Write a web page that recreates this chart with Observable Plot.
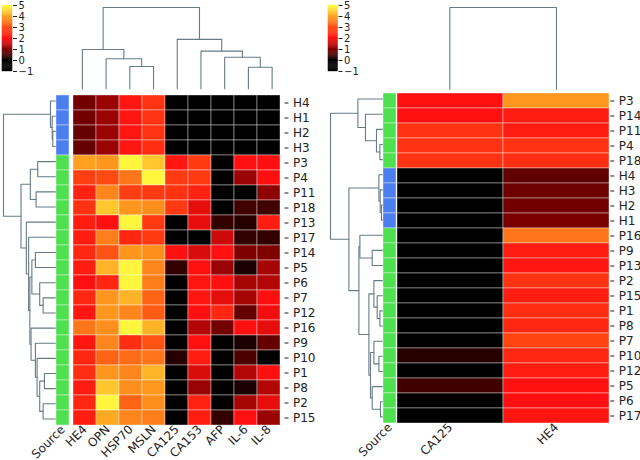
<!DOCTYPE html>
<html><head><meta charset="utf-8">
<script src="https://cdn.jsdelivr.net/npm/d3@7"></script>
<script src="https://cdn.jsdelivr.net/npm/@observablehq/plot@0.6"></script>
<style>
body{margin:0;background:#fff;}
#chart{position:relative;width:640px;height:460px;overflow:hidden;background:#fff;}
#chart > div{position:absolute;}
</style></head><body><div id="chart"></div>
<script>
// ---------- data: left panel ----------
const leftCols = ["HE4","OPN","HSP70","MSLN","CA125","CA153","AFP","IL-6","IL-8"];
const leftRows = ["H4","H1","H2","H3","P3","P4","P11","P18","P13","P17","P14","P5","P6","P7","P12","P16","P9","P10","P1","P8","P2","P15"];
const leftValues = [
  [0.9,1.2,2.1,2.6,-0.5,-0.5,-0.5,-0.5,-0.5],
  [0.9,1.2,2.1,2.6,-0.5,-0.5,-0.5,-0.5,-0.5],
  [0.8,1.2,2.1,2.6,-0.5,-0.5,-0.5,-0.5,-0.5],
  [0.8,1.2,2.1,2.5,-0.5,-0.5,-0.5,-0.5,-0.5],
  [4.0,3.9,4.9,4.4,2.1,2.7,-0.3,2.0,2.0],
  [2.8,3.0,3.5,4.9,2.7,2.7,-0.3,1.2,2.0],
  [2.3,3.7,2.8,2.7,2.6,2.3,-0.3,0.0,1.1],
  [2.6,4.4,3.9,3.8,2.7,1.8,-0.3,0.5,0.5],
  [2.2,2.0,4.9,2.7,-0.3,1.8,0.4,0.3,2.2],
  [2.2,3.6,2.4,2.7,-0.3,-0.1,1.6,0.4,0.4],
  [2.4,3.1,3.9,3.8,2.0,1.7,2.0,1.0,1.0],
  [2.2,4.2,4.9,3.7,0.4,2.0,1.2,0.2,1.3],
  [2.0,2.4,4.9,3.6,-0.3,2.1,2.0,1.3,1.4],
  [2.4,3.9,4.2,3.3,-0.3,2.1,1.8,1.3,2.0],
  [2.1,3.9,3.7,3.2,-0.3,2.0,2.4,0.8,1.9],
  [3.5,3.8,4.9,4.2,-0.3,1.4,0.9,2.0,1.8],
  [2.1,3.7,2.5,3.1,-0.3,2.0,-0.3,0.2,0.8],
  [2.4,3.3,3.4,3.5,0.3,2.2,-0.3,0.6,-0.5],
  [2.5,3.9,3.7,4.2,-0.3,1.7,-0.3,1.4,2.0],
  [2.2,4.4,3.8,3.9,-0.3,1.2,-0.3,0.2,1.4],
  [2.4,4.9,3.3,3.8,-0.3,2.3,-0.3,1.3,1.8],
  [2.2,4.1,3.7,3.6,-0.3,2.2,0.4,2.0,1.2]
];
// dendrograms: [mergeHeight, childA, childB]
const leftColTree = [80.7, [39, "HE4", [29.7, "OPN", [22, "HSP70", "MSLN"]]], [49, "CA125", [37.3, "CA153", [31.3, "AFP", [21.3, "IL-6", "IL-8"]]]]];
const leftRowTree = [51.7,
  [5, "H4", [3.3, "H1", [2.7, "H2", "H3"]]],
  [34.3,
    [25, [17.7, "P3", "P4"], [19.3, "P11", "P18"]],
    [29, "P13",
      [26.7, "P17",
        [25.5,
          [23.5, [20, "P14", "P5"], [15.7, "P6", [12.3, "P7", "P12"]]],
          [24.3, "P16", [20, "P9", [18.3, "P10", [15.7, [11, "P1", "P8"], [12.3, "P2", "P15"]]]]]
        ]]]]];

// ---------- data: right panel ----------
const rightCols = ["CA125","HE4"];
const rightRows = ["P3","P14","P11","P4","P18","H4","H3","H2","H1","P16","P9","P13","P2","P15","P1","P8","P7","P10","P12","P5","P6","P17"];
const rightCA125 = [2.0,2.0,2.6,2.6,2.6,-0.5,-0.5,-0.5,-0.5,-0.3,-0.3,-0.3,-0.3,-0.3,-0.3,-0.3,-0.3,0.3,-0.3,0.5,-0.3,-0.3];
const rightHE4   = [3.9,2.2,2.2,2.6,2.5,0.75,0.85,0.9,0.95,3.5,2.2,2.1,2.6,2.2,2.5,2.4,2.9,2.4,2.2,2.0,2.0,2.1];
const rightColTree = [81.7, "CA125", "HE4"];
const rightRowTree = [52.7,
  [25.3, "P3", [17.7, "P14", [6.7, "P11", [3.3, "P4", "P18"]]]],
  [34.3,
    [4.3, "H4", [3, "H3", [1.7, "H2", "H1"]]],
    [24.3,
      [23.3, "P16", [11, "P9", "P13"]],
      [14.3,
        [9.3, "P2", [6, "P15", [3.3, "P1", "P8"]]],
        [12.7, [9.3, "P7", [4.3, "P10", "P12"]], [11, "P5", [2.7, "P6", "P17"]]]
      ]]]];

const colorbarTicks = [-1,0,1,2,3,4,5];
const sourceGroups = ["Healthy","Patient"];

// ---------- styles ----------
const COLOR = {type:"linear", domain:[-1,0,1,2,3,4,5],
  range:["#000000","#000000","#800000","#ff1010","#ff4a12","#ffa020","#ffff40"], interpolate:"rgb", clamp:true};
const SRC_COLOR = {domain: sourceGroups, range:["#4b7ff0","#4fe04f"]};
const DCOL = "#667b86";
const BASE = "overflow:visible;background:transparent;max-width:none;font-family:'DejaVu Sans';color:#222;";
const chart = document.getElementById("chart");

function place(svg, x, y) {
  const d = document.createElement("div");
  d.style.left = x + "px"; d.style.top = y + "px";
  d.appendChild(svg); chart.appendChild(d);
}

function dendroSegs(tree, leaves) {
  const segs = []; let id = 0;
  (function walk(n) {
    if (typeof n === "string") return {p: leaves.indexOf(n) + 0.5, h: 0};
    const [h, a, b] = n; const A = walk(a), B = walk(b); const k = id++;
    segs.push({id:k,p:A.p,h:A.h},{id:k,p:A.p,h},{id:k,p:B.p,h},{id:k,p:B.p,h:B.h});
    return {p:(A.p + B.p) / 2, h};
  })(tree);
  return segs;
}

const XAXIS = {padding: 0, tickRotate: -45, tickSize: 0, tickPadding: 1, label: null, axis: "bottom"};

function heatmap(rows, cols, data, fx, fy, w, h) {
  const mR = 45, mB = 70;
  const svg = Plot.plot({
    width: w + mR, height: h + mB, marginLeft: 0, marginTop: 0, marginRight: mR, marginBottom: mB,
    style: BASE + "font-size:12px;",
    x: {...XAXIS, domain: cols},
    y: {domain: rows, padding: 0, tickSize: 4, label: null, axis: "right"},
    color: COLOR,
    marks: [Plot.cell(data, {x: "col", y: "row", fill: "v", stroke: "#ffffff", strokeOpacity: 0.55, strokeWidth: 0.7})]
  });
  place(svg, fx, fy);
}

function sourceCol(rows, fx, fy, w, h) {
  const data = rows.map(r => ({row: r, col: "Source", g: r[0] === "H" ? sourceGroups[0] : sourceGroups[1]}));
  const svg = Plot.plot({
    width: w, height: h + 70, marginLeft: 0, marginTop: 0, marginRight: 0, marginBottom: 70,
    style: BASE + "font-size:12px;",
    x: {...XAXIS, domain: ["Source"]},
    y: {domain: rows, padding: 0, axis: null},
    color: SRC_COLOR,
    marks: [Plot.cell(data, {x: "col", y: "row", fill: "g", stroke: "#ffffff", strokeOpacity: 0.55, strokeWidth: 0.7})]
  });
  place(svg, fx, fy);
}

function rowDendro(tree, leaves, fx, fy, w, h) {
  const svg = Plot.plot({
    width: w, height: h, margin: 0, style: BASE,
    x: {domain: [tree[0], 0], axis: null},
    y: {domain: [leaves.length, 0], axis: null},
    marks: [Plot.line(dendroSegs(tree, leaves), {x: "h", y: "p", z: "id", stroke: DCOL, strokeWidth: 1.1})]
  });
  place(svg, fx, fy);
}

function colDendro(tree, leaves, fx, fy, w, h) {
  const svg = Plot.plot({
    width: w, height: h, margin: 0, style: BASE,
    x: {domain: [0, leaves.length], axis: null},
    y: {domain: [0, tree[0]], axis: null},
    marks: [Plot.line(dendroSegs(tree, leaves), {x: "p", y: "h", z: "id", stroke: DCOL, strokeWidth: 1.1})]
  });
  place(svg, fx, fy);
}

function colorbar(fx, fy, w, h) {
  const step = 0.1;
  const cb = d3.range(-1, 5, step).map(a => ({a, b: a + step, m: a + step / 2}));
  const mR = 25;
  const svg = Plot.plot({
    width: w + mR, height: h, marginLeft: 0, marginTop: 0, marginBottom: 0, marginRight: mR,
    style: BASE + "font-size:10px;",
    y: {domain: [-1, 5], ticks: colorbarTicks, tickSize: 4, tickPadding: 2, label: null, axis: "right",
        tickFormat: d => d < 0 ? "\u2212" + Math.abs(d) : String(d)},
    color: COLOR,
    marks: [Plot.rect(cb, {y1: "a", y2: "b", fill: "m", stroke: "m", strokeWidth: 0.4})]
  });
  place(svg, fx, fy);
}

// ---------- left panel ----------
const leftData = leftRows.flatMap((r, i) => leftCols.map((c, j) => ({row: r, col: c, v: leftValues[i][j]})));
colorbar(2, 4.5, 10, 66);
colDendro(leftColTree, leftCols, 69.5, 7.3, 213.5, 81.2);
rowDendro(leftRowTree, leftRows, 3, 93, 52, 333);
sourceCol(leftRows, 56, 93, 13.5, 333);
heatmap(leftRows, leftCols, leftData, 69.5, 93, 213.5, 333);

// ---------- right panel ----------
const rightData = rightRows.flatMap((r, i) => [
  {row: r, col: rightCols[0], v: rightCA125[i]},
  {row: r, col: rightCols[1], v: rightHE4[i]}
]);
colorbar(328, 4.5, 9.5, 66);
colDendro(rightColTree, rightCols, 396, 7.3, 213.3, 81.7);
rowDendro(rightRowTree, rightRows, 330, 91, 52.7, 333);
sourceCol(rightRows, 382.7, 91, 13.3, 333);
heatmap(rightRows, rightCols, rightData, 396, 91, 213.3, 333);
</script></body></html>
